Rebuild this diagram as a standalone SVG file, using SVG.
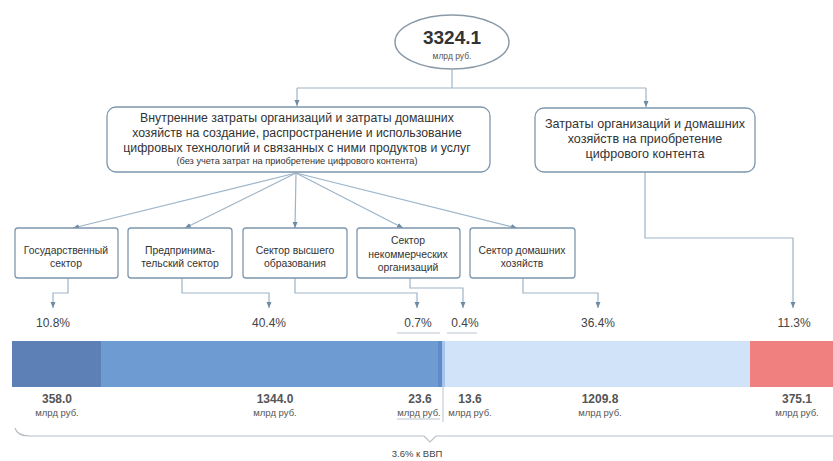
<svg xmlns="http://www.w3.org/2000/svg" width="833" height="461" viewBox="0 0 833 461">
<defs>
<marker id="ah" viewBox="0 0 6 6" refX="6" refY="3" markerWidth="6" markerHeight="6" orient="auto" markerUnits="userSpaceOnUse">
<path d="M0,0.5 L6,3 L0,5.5 Z" fill="#6f8aa3"/>
</marker>
</defs>
<style>
.box{fill:#fff;stroke:#7d96ad;stroke-width:1.3}
.con{fill:none;stroke:#9db4c8;stroke-width:1.2}
.t{font-family:"Liberation Sans",Arial,sans-serif;fill:#333;text-anchor:middle}
.m{font-size:12.3px}
.r{font-size:12.6px}
.s{font-size:10.4px}
.xs{font-size:9.2px}
.pct{font-size:12px;fill:#444}
.val{font-size:12px;font-weight:bold;fill:#555}
.unit{font-size:9.5px;fill:#555}
.thin{stroke:#b8c4ce;stroke-width:1;fill:none}
</style>
<rect width="833" height="461" fill="#fff"/>

<g id="connectors">
<path class="con" d="M452,70 V88 M297,88 H646" />
<path class="con" d="M297,88 V106" marker-end="url(#ah)"/>
<path class="con" d="M646,88 V107" marker-end="url(#ah)"/>
<path class="con" d="M296,173 L73,228" marker-end="url(#ah)"/>
<path class="con" d="M296,173 L185,228" marker-end="url(#ah)"/>
<path class="con" d="M296,173 L295,228" marker-end="url(#ah)"/>
<path class="con" d="M296,173 L403,228" marker-end="url(#ah)"/>
<path class="con" d="M296,173 L517,228" marker-end="url(#ah)"/>
<path class="con" d="M68,278 V293 H53 V308" marker-end="url(#ah)"/>
<path class="con" d="M182,278 V293 H269 V308" marker-end="url(#ah)"/>
<path class="con" d="M295,278 V293 H417 V308" marker-end="url(#ah)"/>
<path class="con" d="M410,278 V288 H463 V308" marker-end="url(#ah)"/>
<path class="con" d="M523,278 V293 H598 V308" marker-end="url(#ah)"/>
<path class="con" d="M645,172 V238 H793 V308" marker-end="url(#ah)"/>
</g>

<g id="total">
<ellipse cx="452" cy="42" rx="57" ry="27" fill="#fff" stroke="#8a9aa8" stroke-width="1.5"/>
<text class="t" x="452" y="44" style="font-size:19px;font-weight:bold;fill:#333">3324.1</text>
<text class="t" x="452" y="59" style="font-size:8.5px;fill:#555">млрд руб.</text>
</g>

<g id="internal">
<rect class="box" x="107" y="107" width="383" height="65" rx="9"/>
<text class="t m" x="297" y="122">Внутренние затраты организаций и затраты домашних</text>
<text class="t m" x="297" y="137">хозяйств на создание, распространение и использование</text>
<text class="t m" x="297" y="152">цифровых технологий и связанных с ними продуктов и услуг</text>
<text class="t xs" x="297" y="164">(без учета затрат на приобретение цифрового контента)</text>
</g>

<g id="content">
<rect class="box" x="535" y="108" width="220" height="64" rx="9"/>
<text class="t r" x="645" y="128">Затраты организаций и домашних</text>
<text class="t r" x="645" y="143">хозяйств на приобретение</text>
<text class="t r" x="645" y="158">цифрового контента</text>
</g>

<g id="gov">
<rect class="box" x="15" y="228" width="103" height="50" rx="3"/>
<text class="t s" x="66" y="254">Государственный</text>
<text class="t s" x="66" y="267">сектор</text>
</g>
<g id="business">
<rect class="box" x="128" y="228" width="104" height="50" rx="3"/>
<text class="t s" x="180" y="254">Предпринима-</text>
<text class="t s" x="180" y="267">тельский сектор</text>
</g>
<g id="higher">
<rect class="box" x="243" y="228" width="104" height="50" rx="3"/>
<text class="t s" x="295" y="254">Сектор высшего</text>
<text class="t s" x="295" y="267">образования</text>
</g>
<g id="nonprofit">
<rect class="box" x="357" y="228" width="103" height="50" rx="3"/>
<text class="t s" x="408" y="244">Сектор</text>
<text class="t s" x="408" y="258">некоммерческих</text>
<text class="t s" x="408" y="271">организаций</text>
</g>
<g id="households">
<rect class="box" x="470" y="228" width="105" height="50" rx="3"/>
<text class="t s" x="522" y="254">Сектор домашних</text>
<text class="t s" x="522" y="267">хозяйств</text>
</g>

<g id="percents">
<text class="t pct" x="53" y="327">10.8%</text>
<text class="t pct" x="269" y="327">40.4%</text>
<text class="t pct" x="418" y="327">0.7%</text>
<text class="t pct" x="465" y="327">0.4%</text>
<text class="t pct" x="598" y="327">36.4%</text>
<text class="t pct" x="794" y="327">11.3%</text>
<path class="thin" d="M397,333 H440 M447,333 H477"/>
</g>

<g id="bar">
<rect x="12" y="341" width="89" height="46" fill="#5d81b6"/>
<rect x="101" y="341" width="337" height="46" fill="#6f9bd3"/>
<rect x="438" y="341" width="4" height="46" fill="#5e8cc9"/>
<rect x="442" y="341" width="3" height="46" fill="#a8c4ea"/>
<rect x="445" y="341" width="305" height="46" fill="#d0e3f9"/>
<rect x="750" y="341" width="83" height="46" fill="#f08080"/>
</g>

<g id="values">
<text class="t val" x="57" y="403">358.0</text>
<text class="t unit" x="57" y="416">млрд руб.</text>
<text class="t val" x="275" y="403">1344.0</text>
<text class="t unit" x="275" y="416">млрд руб.</text>
<text class="t val" x="420" y="403">23.6</text>
<text class="t unit" x="419" y="416">млрд руб.</text>
<text class="t val" x="470" y="403">13.6</text>
<text class="t unit" x="470" y="416">млрд руб.</text>
<text class="t val" x="600" y="403">1209.8</text>
<text class="t unit" x="600" y="416">млрд руб.</text>
<text class="t val" x="797" y="403">375.1</text>
<text class="t unit" x="797" y="416">млрд руб.</text>
<path class="thin" d="M443,387 V422 M397,419 H440"/>
</g>

<g id="brace">
<path d="M15,428 Q17,436 30,436 H424 L430,442 L436,436 H833" fill="none" stroke="#b8c0c8" stroke-width="1.2"/>
<text class="t" x="417" y="457" style="font-size:9.5px;fill:#444">3.6% к ВВП</text>
</g>
</svg>
